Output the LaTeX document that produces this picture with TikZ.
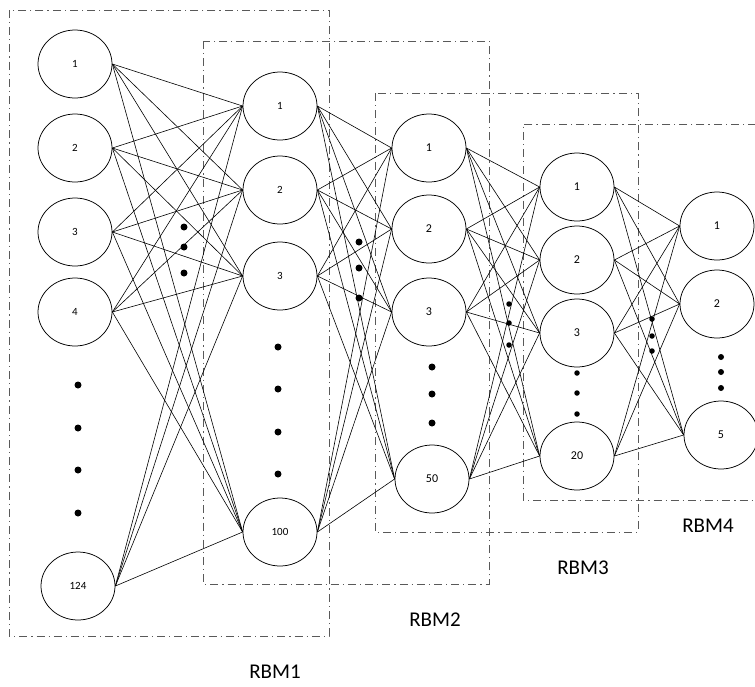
\documentclass[tikz,border=0pt]{standalone}
\usepackage{fontspec}
\setmainfont{Carlito}
\usetikzlibrary{shapes.geometric}
\begin{document}
\begin{tikzpicture}[x=1pt,y=-1pt,
  neuron/.style={draw=black, line width=0.75pt, fill=white, ellipse, inner sep=0pt, minimum width=74pt, minimum height=68pt, font=\fontsize{11}{13}\selectfont},
  neuronb/.style={neuron, font=\fontsize{12}{14}\selectfont},
  link/.style={line width=0.6pt},
  dotm/.style={circle, fill=black, inner sep=0pt, minimum size=7pt},
  dots/.style={circle, fill=black, inner sep=0pt, minimum size=5.5pt},
  rbmbox/.style={draw=black!65, line width=0.9pt, dash pattern=on 8pt off 4pt on 1.2pt off 4pt},
  lbl/.style={font=\fontsize{21}{24}\selectfont}]
\useasboundingbox (0,0) rectangle (755,686);

% RBM boxes
\draw[rbmbox] (9,10) rectangle (329,636);
\draw[rbmbox] (203,41) rectangle (489,584);
\draw[rbmbox] (375,93) rectangle (638,532);
\draw[rbmbox] (756,124) -- (523,124) -- (523,500) -- (756,500);

% Layer 1
\node[neuron] (a1) at (75,64) {1};
\node[neuron] (a2) at (75,148) {2};
\node[neuron] (a3) at (75,232) {3};
\node[neuron] (a4) at (75,312) {4};
\node[neuron] (a124) at (78,586) {124};
% Layer 2
\node[neuron] (b1) at (280,106) {1};
\node[neuron] (b2) at (280,190) {2};
\node[neuron] (b3) at (280,276) {3};
\node[neuron] (b100) at (280,532) {100};
% Layer 3
\node[neuronb] (c1) at (429,148) {1};
\node[neuronb] (c2) at (429,229) {2};
\node[neuronb] (c3) at (429,312) {3};
\node[neuronb] (c50) at (432,479) {50};
% Layer 4
\node[neuronb] (d1) at (577,187) {1};
\node[neuronb] (d2) at (577,260) {2};
\node[neuronb] (d3) at (577,333) {3};
\node[neuronb] (d20) at (577,456) {20};
% Layer 5
\node[neuronb] (e1) at (717,226) {1};
\node[neuronb] (e2) at (717,304) {2};
\node[neuronb] (e5) at (721,435) {5};

% connections
\foreach \s in {a1,a2,a3,a4,a124}
  \foreach \t in {b1,b2,b3,b100}
    \draw[link] (\s.east) -- (\t.west);
\foreach \s in {b1,b2,b3,b100}
  \foreach \t in {c1,c2,c3,c50}
    \draw[link] (\s.east) -- (\t.west);
\foreach \s in {c1,c2,c3,c50}
  \foreach \t in {d1,d2,d3,d20}
    \draw[link] (\s.east) -- (\t.west);
\foreach \s in {d1,d2,d3,d20}
  \foreach \t in {e1,e2,e5}
    \draw[link] (\s.east) -- (\t.west);

% ellipsis dots in columns
\foreach \y [count=\i] in {385,428,470,513} \node[dotm] (da\i) at (78,\y) {};
\foreach \y [count=\i] in {347,389,432,474} \node[dotm] (db\i) at (278,\y) {};
\foreach \y [count=\i] in {367,394,423} \node[dotm] (dc\i) at (432,\y) {};
\foreach \y [count=\i] in {373,393,414} \node[dots] (dd\i) at (577,\y) {};
\foreach \y [count=\i] in {357,372,388} \node[dots,minimum size=6pt] (de\i) at (721,\y) {};
% dots between layers
\foreach \y [count=\i] in {227,247,273} \node[dotm] (x1\i) at (184,\y) {};
\foreach \y [count=\i] in {242,268,298} \node[dotm] (x2\i) at (359,\y) {};
\foreach \y [count=\i] in {304,323,345} \node[dots] (x3\i) at (509,\y) {};
\foreach \y [count=\i] in {319,336,351} \node[dots] (x4\i) at (652,\y) {};

% labels
\node[lbl] (l1) at (275,672) {RBM1};
\node[lbl] (l2) at (435,620) {RBM2};
\node[lbl] (l3) at (583,568) {RBM3};
\node[lbl] (l4) at (708,526) {RBM4};
\end{tikzpicture}
\end{document}
